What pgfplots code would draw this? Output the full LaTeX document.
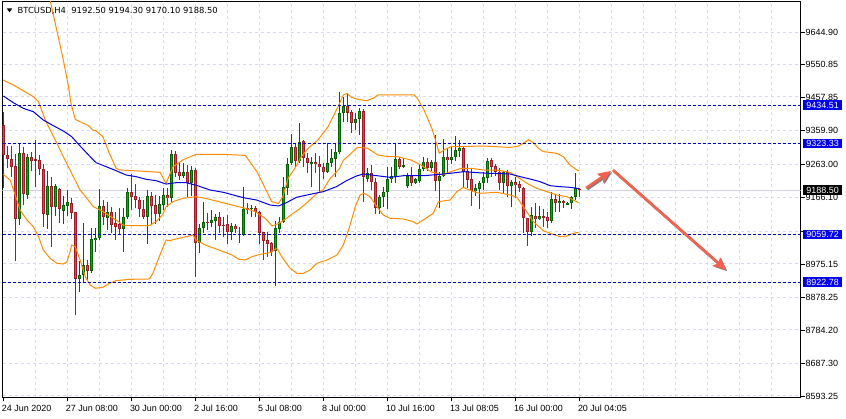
\documentclass[border=0pt]{standalone}
\usepackage{fontspec}
\setmainfont{Liberation Sans}
\newfontfamily\titlefont{DejaVu Sans}
\usepackage{pgfplots}
\usepackage{pgfplotstable}
\pgfplotsset{compat=1.18}
\usetikzlibrary{arrows.meta}

\definecolor{gridc}{RGB}{216,216,240}
\definecolor{bidc}{RGB}{210,210,235}
\definecolor{lvlc}{RGB}{0,0,205}
\definecolor{boxc}{RGB}{0,0,235}
\definecolor{mac}{RGB}{0,0,225}
\definecolor{bandc}{RGB}{255,140,0}
\definecolor{upfill}{RGB}{0,175,0}
\definecolor{upedge}{RGB}{0,100,0}
\definecolor{dnfill}{RGB}{232,62,60}
\definecolor{dnedge}{RGB}{160,28,36}
\definecolor{arrc}{RGB}{246,96,76}
\definecolor{shdc}{RGB}{125,125,125}

% BTCUSD H4 bars: index, open, high, low, close
\pgfplotstableread{
i o h l c
0 9376.9 9415.4 9193.7 9290.1
1 9290.1 9316.1 9251.6 9277.6
2 9278.6 9316.1 9227.5 9254.4
3 9258.3 9292.0 8984.6 9104.1
4 9104.1 9323.9 9087.7 9294.9
5 9294.9 9312.3 9145.5 9176.4
6 9174.5 9292.0 9161.9 9284.3
7 9283.4 9299.8 9243.8 9273.7
8 9278.6 9333.5 9198.6 9274.7
9 9275.7 9290.1 9232.3 9248.7
10 9248.7 9263.1 9082.9 9118.6
11 9115.7 9243.8 9075.2 9200.5
12 9200.5 9225.5 9025.1 9140.7
13 9140.7 9206.3 9113.7 9200.5
14 9190.8 9193.7 9092.5 9133.0
15 9129.2 9171.6 9090.6 9145.5
16 9143.6 9188.9 9113.7 9153.3
17 9150.4 9165.0 9104.1 9123.4
18 9124.3 9126.3 8827.5 8930.6
19 8930.6 8983.6 8893.1 8943.1
20 8943.1 9092.5 8921.0 8972.1
21 8972.1 8986.0 8926.8 8955.7
22 8955.7 9080.0 8948.0 9047.2
23 9044.3 9080.0 9010.6 9051.1
24 9049.2 9190.8 9044.3 9143.6
25 9143.6 9160.0 9087.7 9109.9
26 9107.0 9153.3 9073.3 9124.3
27 9124.3 9140.7 9063.6 9087.7
28 9092.5 9124.3 9044.3 9082.9
29 9089.6 9137.8 9061.7 9075.2
30 9075.2 9137.8 9010.6 9109.9
31 9109.9 9195.7 9104.1 9182.2
32 9182.2 9234.2 9131.1 9169.6
33 9171.6 9205.3 9135.9 9160.0
34 9160.0 9169.6 9109.9 9133.0
35 9133.0 9160.0 9104.1 9111.8
36 9111.8 9188.9 9031.8 9171.6
37 9171.6 9184.1 9087.7 9143.6
38 9145.5 9174.5 9089.6 9119.5
39 9119.5 9171.6 9100.3 9148.4
40 9145.5 9193.7 9131.1 9174.5
41 9174.5 9193.7 9140.7 9164.8
42 9164.8 9304.6 9150.4 9293.0
43 9293.0 9302.6 9227.5 9239.0
44 9240.0 9266.0 9217.8 9230.4
45 9230.4 9267.9 9222.6 9240.0
46 9240.0 9261.2 9169.6 9210.1
47 9210.1 9258.3 9171.6 9246.7
48 9246.7 9251.6 8938.3 9034.7
49 9034.7 9089.6 9007.7 9078.1
50 9078.1 9153.3 9065.5 9095.4
51 9096.4 9121.5 9073.3 9094.5
52 9094.5 9131.1 9082.9 9102.2
53 9100.3 9118.6 9044.3 9109.9
54 9109.9 9124.3 9063.6 9085.8
55 9088.7 9111.8 9052.1 9085.8
56 9090.6 9116.6 9032.8 9068.4
57 9068.4 9092.5 9044.3 9084.8
58 9084.8 9089.6 9063.6 9075.2
59 9060.7 9082.9 9036.6 9062.7
60 9058.8 9197.6 9055.9 9134.0
61 9135.9 9152.3 9119.5 9133.0
62 9134.0 9144.6 9109.9 9137.8
63 9137.8 9143.6 9111.8 9126.3
64 9126.3 9128.2 9032.8 9065.5
65 9066.5 9068.4 8986.5 9042.4
66 9044.3 9066.5 8996.2 9031.8
67 9034.7 9039.5 8998.1 9010.6
68 9013.5 9100.3 8911.3 9078.1
69 9076.2 9111.8 9065.5 9095.4
70 9095.4 9227.5 9092.5 9197.6
71 9195.7 9280.5 9174.5 9264.1
72 9266.0 9350.8 9261.2 9312.3
73 9312.3 9323.9 9256.4 9273.7
74 9273.7 9383.6 9266.0 9326.7
75 9330.6 9333.5 9256.4 9280.5
76 9280.5 9294.9 9237.1 9266.0
77 9266.0 9285.3 9198.6 9268.9
78 9268.9 9294.9 9237.1 9263.1
79 9263.1 9287.2 9179.3 9254.4
80 9254.4 9266.0 9220.7 9240.0
81 9240.0 9323.9 9237.1 9266.0
82 9266.0 9307.5 9256.4 9280.5
83 9278.6 9323.9 9227.5 9297.8
84 9297.8 9471.3 9293.0 9410.6
85 9410.6 9458.8 9386.5 9431.8
86 9431.8 9468.4 9384.6 9412.5
87 9413.5 9420.2 9354.7 9383.6
88 9383.6 9410.6 9362.4 9393.2
89 9393.2 9427.0 9347.9 9417.3
90 9418.3 9423.1 9155.2 9227.5
91 9219.8 9251.6 9211.1 9237.1
92 9237.1 9261.2 9188.9 9211.1
93 9211.1 9222.6 9118.6 9137.8
94 9137.8 9174.5 9118.6 9169.6
95 9167.7 9198.6 9140.7 9184.1
96 9184.1 9256.4 9134.0 9220.7
97 9219.8 9256.4 9208.2 9229.4
98 9225.5 9323.9 9210.1 9278.6
99 9278.6 9285.3 9249.6 9256.4
100 9256.4 9282.4 9251.6 9261.2
101 9201.4 9237.1 9195.7 9230.4
102 9229.4 9254.4 9201.4 9208.2
103 9208.2 9223.6 9205.3 9220.7
104 9215.9 9263.1 9210.1 9249.6
105 9248.7 9285.3 9243.9 9268.9
106 9268.9 9282.4 9244.8 9253.5
107 9253.5 9275.7 9243.9 9270.8
108 9268.9 9347.9 9186.0 9215.9
109 9215.9 9241.9 9137.8 9230.4
110 9230.4 9336.4 9227.5 9283.4
111 9283.4 9309.4 9234.2 9275.7
112 9275.7 9316.1 9263.1 9284.3
113 9283.4 9345.0 9272.8 9304.6
114 9302.6 9333.5 9285.3 9311.3
115 9311.3 9316.1 9195.7 9241.9
116 9243.9 9263.1 9195.7 9217.8
117 9220.7 9248.7 9143.6 9186.0
118 9186.0 9205.3 9172.5 9194.7
119 9192.8 9214.9 9134.0 9208.2
120 9208.2 9241.9 9188.9 9225.5
121 9224.6 9280.5 9210.1 9273.7
122 9275.7 9280.5 9227.5 9256.4
123 9258.3 9263.1 9229.4 9240.0
124 9241.9 9251.6 9188.9 9210.1
125 9210.1 9244.8 9181.2 9241.9
126 9241.9 9246.7 9169.6 9201.4
127 9201.4 9217.8 9140.7 9211.1
128 9211.1 9227.5 9164.8 9203.4
129 9205.3 9214.9 9182.2 9193.7
130 9194.7 9198.6 9063.6 9107.0
131 9107.0 9108.9 9027.9 9068.4
132 9068.4 9140.7 9056.9 9116.6
133 9113.7 9150.4 9078.1 9104.1
134 9104.1 9142.7 9102.2 9113.7
135 9114.7 9134.0 9082.9 9109.9
136 9109.9 9126.3 9078.1 9100.3
137 9100.3 9182.2 9094.5 9161.9
138 9161.9 9174.5 9124.3 9150.4
139 9150.4 9176.4 9126.3 9157.1
140 9156.2 9160.0 9137.8 9153.3
141 9147.5 9155.2 9145.5 9152.3
142 9150.4 9171.6 9134.0 9169.6
143 9169.6 9239.0 9160.0 9194.7
144 9192.5 9194.3 9170.1 9188.5
}\ohlc

\newcommand{\lab}{\fontsize{9}{10}\selectfont}

\pgfplotsset{
  candle/.style={draw=none, mark=none, forget plot,
    error bars/y dir=both, error bars/y explicit, error bars/error mark=none},
  bull/.style={restrict expr to domain={\thisrow{c}-\thisrow{o}}{0:5000}},
  bear/.style={restrict expr to domain={\thisrow{c}-\thisrow{o}}{-5000:-0.01}},
}

\begin{document}
\begin{tikzpicture}
\useasboundingbox (-2.5bp,-21.5bp) rectangle (843.5bp,397.5bp);
\begin{axis}[
  at={(0,0)}, anchor=south west,
  scale only axis, width=798bp, height=396bp,
  xmin=-0.2, xmax=199.3, ymin=8588.9, ymax=9733.96,
  clip mode=individual,
  axis line style={black, line width=1bp},
  tick align=outside,
  major tick length=4bp,
  xtick pos=left, ytick pos=right,
  xtick={0,16,...,144},
  xticklabels={24 Jun 2020,27 Jun 08:00,30 Jun 00:00,2 Jul 16:00,5 Jul 08:00,8 Jul 00:00,10 Jul 16:00,13 Jul 08:05,16 Jul 00:00,20 Jul 04:05},
  extra x ticks={8,16,...,192},
  extra x tick labels={},
  extra x tick style={grid=major, major tick length=0pt},
  % the 9069.20 tick label sits under the 9059.72 tag in the terminal
  ytick={8593.25,8687.30,8784.20,8878.25,8975.15,9069.20,9166.10,9263.00,9359.90,9457.85,9550.85,9644.90},
  yticklabels={8593.25,8687.30,8784.20,8878.25,8975.15,,9166.10,9263.00,9359.90,9457.85,9550.85,9644.90},
  yticklabel pos=right,
  ymajorgrids=true,
  major grid style={gridc, line width=1bp, dash pattern=on 3bp off 3bp},
  tick style={black, line width=0.8bp},
  xticklabel style={font=\lab, anchor=north west, xshift=-1.5bp, inner sep=0pt, yshift=-3.5bp},
  yticklabel style={font=\lab, anchor=west, inner xsep=1bp},
  /pgf/number format/assume math mode=true,
]

% bid line
\addplot[bidc, line width=1bp, forget plot] coordinates {(-0.2,9188.5) (199.3,9188.5)};

% wicks
\addplot[candle, bull, error bars/error bar style={draw=upedge, line width=1bp}]
  table[x=i, y expr={(\thisrow{h}+\thisrow{l})/2}, y error expr={(\thisrow{h}-\thisrow{l})/2}] {\ohlc};
\addplot[candle, bear, error bars/error bar style={draw=dnedge, line width=1bp}]
  table[x=i, y expr={(\thisrow{h}+\thisrow{l})/2}, y error expr={(\thisrow{h}-\thisrow{l})/2}] {\ohlc};
% bodies: outline then fill
\addplot[candle, bull, error bars/error bar style={draw=upedge, line width=3bp}]
  table[x=i, y expr={(\thisrow{o}+\thisrow{c})/2}, y error expr={max(abs(\thisrow{c}-\thisrow{o})/2,0.8)}] {\ohlc};
\addplot[candle, bear, error bars/error bar style={draw=dnedge, line width=3bp}]
  table[x=i, y expr={(\thisrow{o}+\thisrow{c})/2}, y error expr={max(abs(\thisrow{c}-\thisrow{o})/2,0.8)}] {\ohlc};
\addplot[candle, bull, error bars/error bar style={draw=upfill, line width=1.2bp}]
  table[x=i, y expr={(\thisrow{o}+\thisrow{c})/2}, y error expr={max(abs(\thisrow{c}-\thisrow{o})/2-2.6,0)}] {\ohlc};
\addplot[candle, bear, error bars/error bar style={draw=dnfill, line width=1.2bp}]
  table[x=i, y expr={(\thisrow{o}+\thisrow{c})/2}, y error expr={max(abs(\thisrow{c}-\thisrow{o})/2-2.6,0)}] {\ohlc};

% Bollinger bands
\addplot[bandc, line width=1bp] coordinates {
(0,9780) (5,9800) (10,9770) (11.7,9738) (13.35,9652) (15.0,9565) (16.3,9488)
(16.9,9440) (18.0,9393) (19.6,9384) (21.3,9375) (22.4,9362) (23.2,9360)
(24.9,9343) (26.5,9295) (28.2,9252) (29.0,9247) (36.5,9242) (39.2,9240)
(40.7,9208) (42.4,9256) (44.9,9276) (48.2,9292) (55.0,9292) (60.5,9289)
(63.4,9242) (65.9,9184) (67.1,9155) (68.8,9150) (69.9,9170) (71.2,9223)
(72.9,9252) (74.5,9285) (76.2,9309) (78.7,9334) (81.2,9372) (83.7,9430)
(85.0,9464) (86.0,9468) (87.0,9457) (88.7,9451) (90.8,9447) (92.5,9454)
(93.7,9464) (102.7,9464) (103.5,9454) (105.2,9420) (107.3,9362) (109.0,9295)
(110.2,9305) (111.9,9314) (120,9316) (126.7,9312) (128.8,9316) (130,9324)
(131.3,9334) (132.5,9326) (133.8,9309) (135,9300) (138.4,9295) (140,9285)
(141.7,9261) (143.4,9247) (144,9244)};
\addplot[bandc, line width=1bp] coordinates {
(0,9507) (2.5,9492.5) (5,9476.1) (7.5,9458.8) (8.8,9444.3) (10.5,9391.3)
(13,9333.5) (15,9285.3) (17.1,9237.1) (19.2,9188.9) (20.9,9164.8) (22.5,9140.7)
(24.2,9131.1) (24.9,9126.3) (28.2,9102.2) (29.9,9087.7) (31.5,9085.8)
(36.5,9085.8) (38.2,9097.4) (39.9,9118.6) (40.7,9140.7) (42.4,9155.2)
(44.9,9164.8) (48.2,9169.6) (50.5,9164.8) (53.9,9155.2) (57.2,9145.5)
(60.5,9135.9) (63,9126.3) (65.5,9107) (67.2,9084.8) (68.9,9092.5) (70.5,9104.1)
(72.2,9119.5) (73.7,9131.1) (76.2,9155) (78.4,9179) (80,9190) (81.7,9222)
(84,9250) (85,9275) (86.5,9290) (88.5,9312) (91,9310) (93.7,9290)
(96.2,9285.3) (98.5,9285.3) (101.9,9275.7) (104.4,9261.2) (106.9,9241.9)
(109.8,9232.3) (111.9,9241.9) (114.4,9251.6) (116.9,9251.6) (120.2,9246.7)
(123.4,9246.7) (126.7,9240) (128.4,9227.5) (130.9,9208.2) (133.4,9193.7)
(135.9,9184.1) (138.4,9174.5) (140.9,9169.6) (142.5,9160) (143.8,9152.3)};
\addplot[bandc, line width=1bp] coordinates {
(0,9234.2) (1.7,9217.8) (3.4,9160.0) (4.2,9131.1) (5.9,9102.2) (7.5,9082.9)
(8.8,9054.0) (10.0,9015.4) (11.7,8991.3) (13.4,8976.9) (15.0,8974.9)
(15.9,8981.7) (16.7,9010.6) (17.1,9029.9) (18.0,9025.1) (19.2,8986.5)
(20.5,8938.3) (21.7,8914.2) (23.0,8904.6) (24.2,8906.5) (24.9,8907.5)
(26.5,8919.0) (28.2,8926.8) (31.5,8930.6) (36.5,8931.6) (37.4,8948.0)
(39.0,8996.2) (40.7,9044.3) (41.5,9042.4) (43.2,9047.2) (45.7,9054.0)
(47.4,9058.8) (48.2,9044.3) (50.5,9029.9) (53.9,9015.4) (57.2,9001.0)
(58.9,8988.5) (60.5,8986.5) (62.2,8996.2) (64.2,9002.9) (66.7,9007.7)
(68.4,9020.2) (69.6,8996.2) (71.7,8962.4) (73.4,8948.0) (75,8948.0)
(76.7,8957.6) (78.4,8976.9) (80.9,8986.5) (83.4,9001.0) (85.0,9029.9)
(86.5,9080) (88.0,9140.7) (89.2,9174.5) (90.2,9179.3) (91.7,9169.6)
(93.4,9140.7) (95,9116.6) (96.7,9107.0) (100,9105.1) (102.5,9097.4)
(103.4,9090.6) (105,9102.2) (107.5,9121.5) (108.8,9155.2) (111.7,9160.0)
(113.4,9184.1) (115,9196.6) (117.5,9184.1) (119.2,9179.3) (123.4,9182.2)
(126.7,9174.5) (128.4,9167.7) (130,9140.7) (132.5,9097.4) (135,9071.3)
(136.7,9063.6) (139.2,9054.0) (140.9,9055.9) (142.5,9063.6) (143.8,9066.5)};

% moving average
\addplot[mac, line width=1bp] coordinates {
(0,9460.7) (2.5,9441.4) (5,9425.0) (7.5,9415.4) (10,9391.3) (12.5,9374.9)
(15,9359.5) (17.1,9343.1) (19.2,9316.1) (21.7,9285.3) (23.2,9268) (25.7,9256.4)
(28.2,9244.8) (30.7,9232.3) (33.2,9227.5) (35.7,9219.8) (38.2,9215.9)
(40.7,9206) (43.2,9210) (45.7,9210.1) (48.3,9202.4) (51.7,9188.9) (55,9182.2)
(60,9166.7) (63.3,9160.0) (66.7,9145.5) (68.8,9142.7) (70.8,9152.3)
(73.3,9167.7) (76.7,9176.4) (80,9184.1) (83.3,9198.6) (85.8,9215.9)
(88.3,9229.4) (90,9235.2) (93.3,9230.4) (96.7,9225.5) (100.2,9230.4)
(105.2,9230.4) (110.2,9235.2) (115.2,9241.9) (118.5,9239.0) (121.7,9237.1)
(126.7,9235.2) (129.2,9227.5) (131.7,9220.7) (134.2,9213.0) (136.7,9201.4)
(139.2,9198.6) (141.7,9196.6) (144,9192.8)};

% horizontal levels
\addplot[lvlc, line width=1bp, dash pattern=on 3bp off 2bp] coordinates {(-0.2,9434.51) (199.3,9434.51)};
\addplot[lvlc, line width=1bp, dash pattern=on 3bp off 2bp] coordinates {(-0.2,9323.33) (199.3,9323.33)};
\addplot[lvlc, line width=1bp, dash pattern=on 3bp off 2bp] coordinates {(-0.2,9059.72) (199.3,9059.72)};
\addplot[lvlc, line width=1bp, dash pattern=on 3bp off 2bp] coordinates {(-0.2,8922.78) (199.3,8922.78)};

\coordinate (L1) at (axis cs:199.3,9434.51);
\coordinate (L2) at (axis cs:199.3,9323.33);
\coordinate (L3) at (axis cs:199.3,9188.50);
\coordinate (L4) at (axis cs:199.3,9059.72);
\coordinate (L5) at (axis cs:199.3,8922.78);

% arrows
\draw[shdc, line width=2.6bp, -{Stealth[length=13bp, width=11bp, inset=3bp]}]
  ([xshift=1.2bp,yshift=-1.2bp]axis cs:145.7,9194.7) -- ([xshift=1.2bp,yshift=-1.2bp]axis cs:151.9,9243.9);
\draw[arrc, line width=2.6bp, -{Stealth[length=13bp, width=11bp, inset=3bp]}]
  (axis cs:145.7,9194.7) -- (axis cs:151.9,9243.9);
\draw[shdc, line width=2.6bp, -{Stealth[length=13bp, width=11bp, inset=3bp]}]
  ([xshift=1.2bp,yshift=-1.2bp]axis cs:152.4,9246.7) -- ([xshift=1.2bp,yshift=-1.2bp]axis cs:180.7,8957.6);
\draw[arrc, line width=2.6bp, -{Stealth[length=13bp, width=11bp, inset=3bp]}]
  (axis cs:152.4,9246.7) -- (axis cs:180.7,8957.6);
\end{axis}

% price tags on the right scale
\tikzset{tag/.style={anchor=west, xshift=2.2bp, text=white, font=\lab,
  inner xsep=3.5bp, inner ysep=1.5bp, text height=6.4bp, text depth=0pt}}
\node[tag, fill=boxc] at (L1) {9434.51};
\node[tag, fill=boxc] at (L2) {9323.33};
\node[tag, fill=black] at (L3) {9188.50};
\node[tag, fill=boxc] at (L4) {9059.72};
\node[tag, fill=boxc] at (L5) {8922.78};

% chart header
\fill (4.2bp,389.2bp) -- (9.8bp,389.2bp) -- (7bp,385.2bp) -- cycle;
\node[anchor=base west, inner sep=0pt, font=\titlefont\fontsize{8.4}{10}\selectfont]
  at (15bp,384.2bp) {BTCUSD,H4\ \ 9192.50 9194.30 9170.10 9188.50};
\end{tikzpicture}
\end{document}
